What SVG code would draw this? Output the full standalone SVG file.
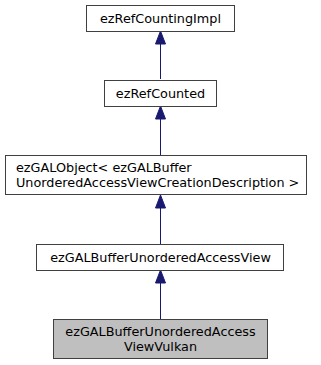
<svg xmlns="http://www.w3.org/2000/svg" width="321" height="365" viewBox="0 0 321 365">
<style>
  .box { fill: #ffffff; stroke: #404040; stroke-width: 1; }
  .cur { fill: #bfbfbf; stroke: #404040; stroke-width: 1; }
  .lbl { font-family: "DejaVu Sans", sans-serif; font-size: 12.8px; fill: #000000; }
  .edge { stroke: #191970; stroke-width: 1; fill: none; }
  .head { fill: #191970; stroke: #191970; stroke-width: 1; }
</style>
<rect width="321" height="365" fill="#ffffff"/>
<g id="connectors">
  <path class="edge" d="M160.5,79 V44"/>
  <polygon class="head" points="155.5,44 160.5,31 165.5,44"/>
  <path class="edge" d="M160.5,155 V119"/>
  <polygon class="head" points="155.5,119 160.5,106 165.5,119"/>
  <path class="edge" d="M160.5,244 V208"/>
  <polygon class="head" points="155.5,208 160.5,195 165.5,208"/>
  <path class="edge" d="M160.5,319 V283"/>
  <polygon class="head" points="155.5,283 160.5,270 165.5,283"/>
</g>
<g id="node1">
  <rect class="box" x="86.5" y="5.5" width="148" height="26"/>
  <text class="lbl" x="160.5" y="23" text-anchor="middle">ezRefCountingImpl</text>
</g>
<g id="node2">
  <rect class="box" x="104.5" y="80.5" width="112" height="26"/>
  <text class="lbl" x="160.5" y="98" text-anchor="middle">ezRefCounted</text>
</g>
<g id="node3">
  <rect class="box" x="5.5" y="155.5" width="301" height="39"/>
  <text class="lbl" x="16" y="172">ezGALObject&lt; ezGALBuffer</text>
  <text class="lbl" x="16" y="187">UnorderedAccessViewCreationDescription &gt;</text>
</g>
<g id="node4">
  <rect class="box" x="36.5" y="244.5" width="247" height="26"/>
  <text class="lbl" x="160.5" y="262" text-anchor="middle">ezGALBufferUnorderedAccessView</text>
</g>
<g id="node5">
  <rect class="cur" x="53.5" y="319.5" width="214" height="39"/>
  <text class="lbl" x="160.5" y="336" text-anchor="middle">ezGALBufferUnorderedAccess</text>
  <text class="lbl" x="160.5" y="351" text-anchor="middle">ViewVulkan</text>
</g>
</svg>
